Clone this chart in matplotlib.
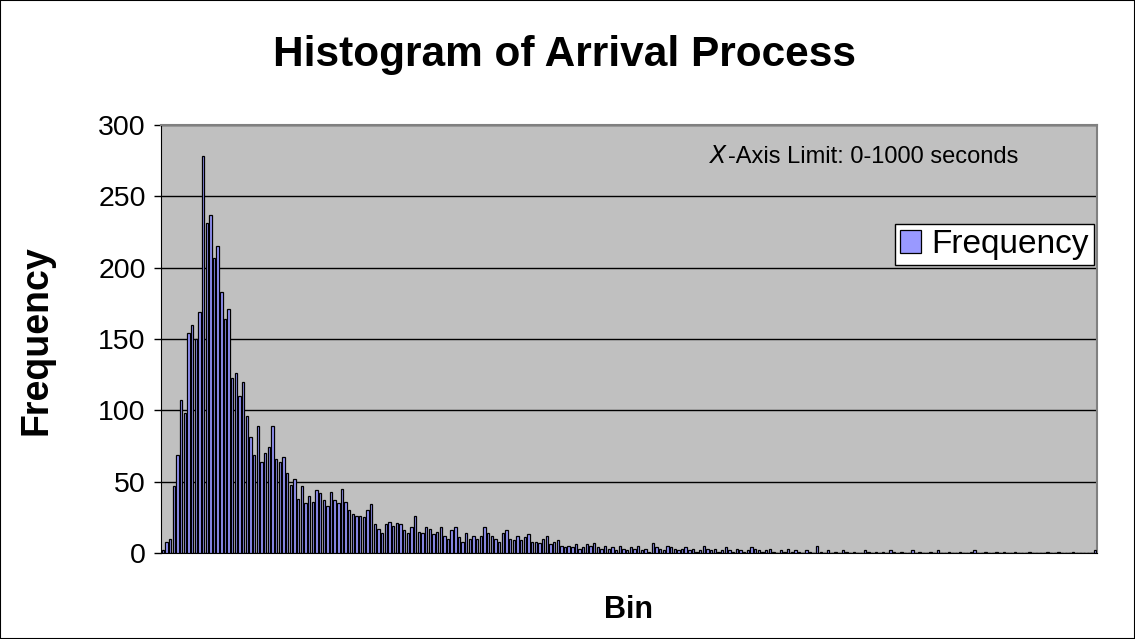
import numpy as np
import matplotlib.pyplot as plt
from matplotlib.patches import Rectangle

plt.rcParams['font.family'] = ['Liberation Sans', 'DejaVu Sans']

# counts per arrival-time bin (4 s bins over 0-1000 s)
freq_head = [2, 8, 10, 47, 69, 107, 98, 154, 160, 150,
             169, 278, 231, 237, 207, 215, 183, 164, 171, 123,
             126, 110, 120, 96, 81, 69, 89, 64, 70, 74,
             89, 66, 64, 67]
freq_mid = [56, 48, 52, 38, 47, 35, 40, 36, 44, 42, 37, 33, 43, 37, 35, 45,
            36, 30, 27, 26, 26, 25, 30, 34, 20, 17,
            14, 20, 22, 19, 21, 20, 16, 14, 18, 26, 15,
            14, 18, 17, 13, 15, 18, 12, 10, 16, 18, 11,
            8, 14, 10, 12, 10, 12, 18, 14, 12, 10, 8, 14, 16, 10, 9, 12]
freq_tail = [9, 11, 13, 8, 8, 7, 10, 12, 6, 8, 9, 5, 4, 5, 4, 6, 3, 4, 6, 5, 7, 4,
             3, 5, 3, 4, 2, 5, 3, 2, 4, 3, 5, 2, 3, 1, 7, 4, 3, 2, 5, 4, 3, 2, 3, 4, 2, 3, 1,
             2, 5, 3, 2, 3, 1, 2, 4, 2, 1, 3, 2, 1, 2, 4, 3, 2, 1, 2, 3, 1, 0, 2, 1, 3, 1, 2,
             1, 0, 2, 1, 0, 5, 1, 0, 2, 0, 1, 0, 2, 1, 0, 1, 0, 0, 2, 1, 0, 1, 0, 1, 0, 2, 1, 0,
             1, 0, 0, 2, 0, 1, 0, 0, 1, 0, 2, 0, 0, 1, 0, 0, 1, 0, 0, 1, 2, 0, 0, 1, 0, 0, 1,
             0, 1, 0, 0, 1, 0, 0, 0, 1, 0, 0, 0, 0, 1, 0, 0, 1, 0, 0, 0, 1, 0, 0, 0, 0, 0, 2]
freq = np.array(freq_head + freq_mid + freq_tail)
bins = np.arange(len(freq))

y_ticks = [0, 50, 100, 150, 200, 250, 300]

fig = plt.figure(figsize=(11.35, 6.39), dpi=100)
ax = fig.add_axes([161/1135, 1 - 553/639, 936/1135, 428/639])
ax.set_facecolor('#C0C0C0')

ax.bar(bins, freq, width=0.65, color='#9999FF', edgecolor='black',
       linewidth=0.9, label='Frequency', zorder=3)

ax.set_xlim(-0.5, len(freq) - 0.5)
ax.set_ylim(0, 300)
ax.set_yticks(y_ticks)
ax.tick_params(axis='y', labelsize=20.5, length=5, width=1, direction='out', pad=6)
ax.set_xticks([])
ax.grid(axis='y', color='black', linewidth=1, zorder=1)

for s in ['top', 'right']:
    ax.spines[s].set_color('#808080')
    ax.spines[s].set_linewidth(1.5)
ax.spines['left'].set_color('black')
ax.spines['bottom'].set_color('black')

fig.text(37/1135, 1 - 340/639, 'Frequency', fontsize=27, fontweight='bold',
         rotation=90, ha='center', va='center')
fig.text(628/1135, 1 - 610/639, 'Bin', fontsize=22, fontweight='bold',
         ha='center', va='center')
fig.text(0.497, 1 - 55/639, 'Histogram of Arrival Process', fontsize=30.5,
         fontweight='bold', ha='center', va='center')

fig.text(708/1135, 1 - 157/639, r'$\mathit{X}$', fontsize=17,
         ha='left', va='center')
fig.text(728/1135, 1 - 157/639, '-Axis Limit: 0-1000 seconds',
         fontsize=17, ha='left', va='center')

leg = ax.legend(loc='upper right', bbox_to_anchor=(0.9965, 0.768), fontsize=24,
                frameon=True, fancybox=False, framealpha=1, edgecolor='black',
                handlelength=0.65, handleheight=0.65, handletextpad=0.3,
                borderpad=0.15, borderaxespad=0)
leg.get_frame().set_linewidth(1)

fig.patches.append(Rectangle((0, 0), 1, 1, transform=fig.transFigure,
                             fill=False, edgecolor='black', linewidth=1.5))

fig.savefig('out.png', dpi=100)
